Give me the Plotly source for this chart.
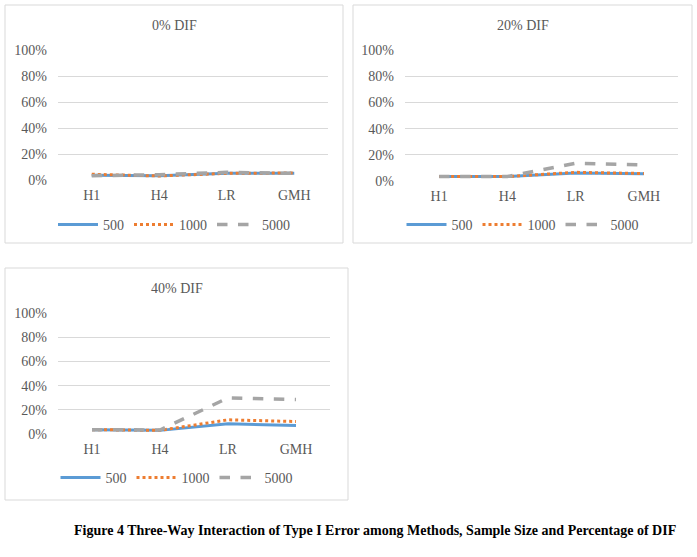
import plotly.graph_objects as go

W, H = 697, 557

methods = ["H1", "H4", "LR", "GMH"]
series_names = ["500", "1000", "5000"]

dif0_500 = [0.036, 0.033, 0.051, 0.051]
dif0_1000 = [0.044, 0.031, 0.051, 0.054]
dif0_5000 = [0.033, 0.041, 0.059, 0.051]

dif20_500 = [0.034, 0.034, 0.062, 0.055]
dif20_1000 = [0.034, 0.034, 0.066, 0.057]
dif20_5000 = [0.034, 0.034, 0.135, 0.122]

dif40_500 = [0.036, 0.030, 0.084, 0.070]
dif40_1000 = [0.036, 0.030, 0.117, 0.103]
dif40_5000 = [0.036, 0.033, 0.298, 0.285]

panel_titles = ["0% DIF", "20% DIF", "40% DIF"]
caption = "Figure 4 Three-Way Interaction of Type I Error among Methods, Sample Size and Percentage of DIF"

panels_data = [
    [dif0_500, dif0_1000, dif0_5000],
    [dif20_500, dif20_1000, dif20_5000],
    [dif40_500, dif40_1000, dif40_5000],
]

colors = ["#5b9bd5", "#ed7d31", "#a5a5a5"]
dashes = ["solid", "dot", "dash"]
widths = [3, 3, 3.5]

FONT = "Liberation Serif"
GRAY = "#595959"

# pixel layout (left, top, right, bottom) of plot areas and boxes
plot_px = [(58, 50, 328, 180), (405, 50, 678, 181), (58, 313, 330, 434)]
box_px = [(5, 5, 343, 243), (353, 5, 692, 243), (5, 268, 348, 500)]
title_y_px = [25, 25, 288]
legend_y_px = [225, 225, 478]

def px_x(x):
    return x / W

def px_y(y):
    return 1 - y / H

fig = go.Figure()
legend_keys = ["legend", "legend2", "legend3"]

for p in range(3):
    xa = "x" if p == 0 else f"x{p+1}"
    ya = "y" if p == 0 else f"y{p+1}"
    for s in range(3):
        fig.add_trace(go.Scatter(
            x=methods, y=panels_data[p][s], name=series_names[s],
            mode="lines", xaxis=xa, yaxis=ya,
            line=dict(color=colors[s], dash=dashes[s], width=widths[s]),
            legend=legend_keys[p], showlegend=True,
        ))

layout = dict(
    width=W, height=H, autosize=False,
    margin=dict(l=0, r=0, t=0, b=0, pad=0, autoexpand=False),
    paper_bgcolor="white", plot_bgcolor="white",
    font=dict(family=FONT, size=14, color=GRAY),
    shapes=[], annotations=[],
)

for p in range(3):
    l, t, r, b = plot_px[p]
    suf = "" if p == 0 else str(p + 1)
    layout["xaxis" + suf] = dict(
        domain=[px_x(l), px_x(r)], anchor="y" + suf, automargin=False,
        type="category", categoryorder="array", categoryarray=methods,
        range=[-0.5, 3.5], showgrid=False, showline=False, zeroline=False,
        ticks="", ticklabelstandoff=5,
        tickfont=dict(family=FONT, size=14, color=GRAY), fixedrange=True,
    )
    layout["yaxis" + suf] = dict(
        domain=[px_y(b), px_y(t)], anchor="x" + suf, automargin=False,
        range=[0, 1], dtick=0.2, tick0=0, tickformat=".0%",
        showgrid=True, gridcolor="#d9d9d9", gridwidth=1,
        zeroline=False, showline=False, ticks="", ticklabelstandoff=10,
        tickfont=dict(family=FONT, size=14, color=GRAY), fixedrange=True,
    )
    bl, bt, br, bb = box_px[p]
    layout["shapes"].append(dict(
        type="rect", xref="paper", yref="paper",
        x0=px_x(bl), x1=px_x(br), y0=px_y(bb), y1=px_y(bt),
        line=dict(color="#d9d9d9", width=1), fillcolor="rgba(0,0,0,0)", layer="below",
    ))
    layout["annotations"].append(dict(
        text=panel_titles[p], xref="paper", yref="paper",
        x=px_x((bl + br) / 2), y=px_y(title_y_px[p]),
        xanchor="center", yanchor="middle", showarrow=False,
        font=dict(family=FONT, size=14, color=GRAY),
    ))
    layout[legend_keys[p]] = dict(
        orientation="h", x=px_x((bl + br) / 2), y=px_y(legend_y_px[p]),
        xanchor="center", yanchor="middle", bgcolor="rgba(0,0,0,0)",
        font=dict(family=FONT, size=14, color=GRAY),
        itemwidth=40, tracegroupgap=0,
    )

layout["annotations"].append(dict(
    text="<b>" + caption + "</b>", xref="paper", yref="paper",
    x=px_x(375), y=px_y(530), xanchor="center", yanchor="middle", showarrow=False,
    font=dict(family=FONT, size=14, color="#000000"),
))

fig.update_layout(**layout)
fig.write_html("out.html")
